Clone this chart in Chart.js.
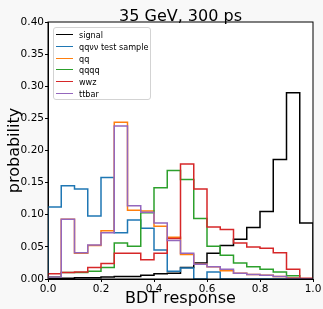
<!DOCTYPE html>
<html>
<head>
<meta charset="utf-8">
<script src="https://cdn.jsdelivr.net/npm/chart.js@4.4.1/dist/chart.umd.min.js"></script>
<style>
    html, body { margin: 0; padding: 0; background: #f8f8f8; }
    #wrap { position: relative; width: 323px; height: 309px; }
    #legenda {
        position: absolute; left: 53px; top: 27px; width: 98px; height: 73px;
        box-sizing: border-box; border: 1px solid #d3d3d3; border-radius: 3px;
        background: rgba(255, 255, 255, 0.85); font: 8.1px "DejaVu Sans", sans-serif; color: #000;
    }
    .item { position: absolute; left: 0; height: 0; }
    .item .linha { position: absolute; left: 2px; width: 17px; top: -1px; border-top: 1.5px solid; }
    .item .txt { position: absolute; left: 25px; top: -5px; white-space: nowrap; line-height: 10px; }
</style>
</head>
<body>
<div id="wrap">
    <canvas id="grafico" width="323" height="309"></canvas>
    <div id="legenda"></div>
</div>
<script>
// bordas dos bins (BDT response)
const bordas = [0.00, 0.05, 0.10, 0.15, 0.20, 0.25, 0.30, 0.35, 0.40, 0.45, 0.50,
                0.55, 0.60, 0.65, 0.70, 0.75, 0.80, 0.85, 0.90, 0.95, 1.00]

const nomes = ['signal', 'qqνν test sample', 'qq', 'qqqq', 'wwz', 'ttbar']
const cores = ['#000000', '#1f77b4', '#ff7f0e', '#2ca02c', '#d62728', '#9467bd']

const signal = [0.001, 0.001, 0.002, 0.002, 0.003, 0.004, 0.004, 0.006, 0.008, 0.009,
                0.018, 0.025, 0.040, 0.052, 0.062, 0.080, 0.105, 0.186, 0.290, 0.087]
const qqvv   = [0.112, 0.145, 0.140, 0.098, 0.158, 0.072, 0.092, 0.079, 0.045, 0.012,
                0.017, 0.000, 0.011, 0.000, 0.000, 0.000, 0.000, 0.000, 0.000, 0.000]
const qq     = [0.003, 0.093, 0.040, 0.052, 0.075, 0.244, 0.107, 0.106, 0.082, 0.065,
                0.038, 0.023, 0.019, 0.013, 0.009, 0.007, 0.006, 0.004, 0.002, 0.000]
const qqqq   = [0.003, 0.010, 0.010, 0.012, 0.018, 0.056, 0.051, 0.103, 0.142, 0.169,
                0.155, 0.094, 0.051, 0.037, 0.025, 0.019, 0.015, 0.011, 0.005, 0.000]
const wwz    = [0.008, 0.010, 0.011, 0.018, 0.024, 0.040, 0.040, 0.030, 0.040, 0.063,
                0.179, 0.140, 0.081, 0.077, 0.056, 0.050, 0.048, 0.041, 0.015, 0.001]
const ttbar  = [0.003, 0.093, 0.041, 0.053, 0.072, 0.238, 0.114, 0.104, 0.087, 0.060,
                0.040, 0.023, 0.019, 0.015, 0.009, 0.007, 0.006, 0.004, 0.001, 0.000]

const series = [signal, qqvv, qq, qqqq, wwz, ttbar]

const yTicks = [0.00, 0.05, 0.10, 0.15, 0.20, 0.25, 0.30, 0.35, 0.40]
const xTicks = [0.0, 0.2, 0.4, 0.6, 0.8, 1.0]

const titulo = '35 GeV, 300 ps'

Chart.defaults.font.family = '"DejaVu Sans", sans-serif'
Chart.defaults.color = '#000'

// histograma em degraus: cada bin vira um ponto na borda esquerda
function degraus(vals) {
    const pts = [{ x: bordas[0], y: 0 }]
    vals.forEach((v, i) => pts.push({ x: bordas[i], y: v }))
    pts.push({ x: bordas[bordas.length - 1], y: vals[vals.length - 1] })
    pts.push({ x: bordas[bordas.length - 1], y: 0 })
    return pts
}

const datasets = series.map((vals, i) => ({
    label: nomes[i],
    data: degraus(vals),
    borderColor: cores[i],
    borderWidth: 1.5,
    stepped: 'before',
    pointRadius: 0,
    fill: false,
    order: series.length - i
}))

// fundo branco, moldura e titulo centrado no eixo (como no matplotlib)
const moldura = {
    id: 'moldura',
    beforeDraw(chart) {
        const { ctx, chartArea: a } = chart
        ctx.save()
        ctx.fillStyle = '#fff'
        ctx.fillRect(a.left, a.top, a.right - a.left, a.bottom - a.top)
        ctx.fillStyle = '#000'
        ctx.font = '16px "DejaVu Sans", sans-serif'
        ctx.textAlign = 'center'
        ctx.textBaseline = 'alphabetic'
        ctx.fillText(titulo, (a.left + a.right) / 2, a.top - 1.5)
        ctx.restore()
    },
    afterDatasetsDraw(chart) {
        const { ctx, chartArea: a } = chart
        ctx.save()
        ctx.strokeStyle = '#000'
        ctx.lineWidth = 1
        ctx.strokeRect(a.left, a.top, a.right - a.left, a.bottom - a.top)
        ctx.restore()
    }
}

new Chart(document.getElementById('grafico'), {
    type: 'line',
    data: { datasets },
    options: {
        responsive: false,
        animation: false,
        layout: { padding: { top: 22, right: 10 } },
        plugins: {
            legend: { display: false },
            tooltip: { enabled: false },
            title: { display: false }
        },
        scales: {
            x: {
                type: 'linear', min: 0, max: 1,
                afterBuildTicks: s => { s.ticks = xTicks.map(v => ({ value: v })) },
                afterFit: s => { s.height = 30 },
                ticks: { callback: v => v.toFixed(1), font: { size: 10.5 }, padding: 1, maxRotation: 0 },
                grid: { drawOnChartArea: false, drawTicks: true, tickLength: 3, color: '#000' },
                border: { color: '#000' },
                title: { display: true, text: 'BDT response', font: { size: 16 }, padding: { top: 0, bottom: 1 } }
            },
            y: {
                type: 'linear', min: 0, max: 0.4,
                afterBuildTicks: s => { s.ticks = yTicks.map(v => ({ value: v })) },
                afterFit: s => { s.width = 48 },
                ticks: { callback: v => v.toFixed(2), font: { size: 10.5 }, padding: 1 },
                grid: { drawOnChartArea: false, drawTicks: true, tickLength: 3, color: '#000' },
                border: { color: '#000' },
                title: { display: true, text: 'probability', font: { size: 16 }, padding: { top: 5, bottom: 0 } }
            }
        }
    },
    plugins: [moldura]
})

// legenda dentro do eixo
const legenda = document.getElementById('legenda')
nomes.forEach((nome, i) => {
    legenda.innerHTML += `
        <div class="item" style="top:${7 + i * 11.75}px">
            <span class="linha" style="border-color:${cores[i]}"></span>
            <span class="txt">${nome}</span>
        </div>
    `
})
</script>
</body>
</html>
